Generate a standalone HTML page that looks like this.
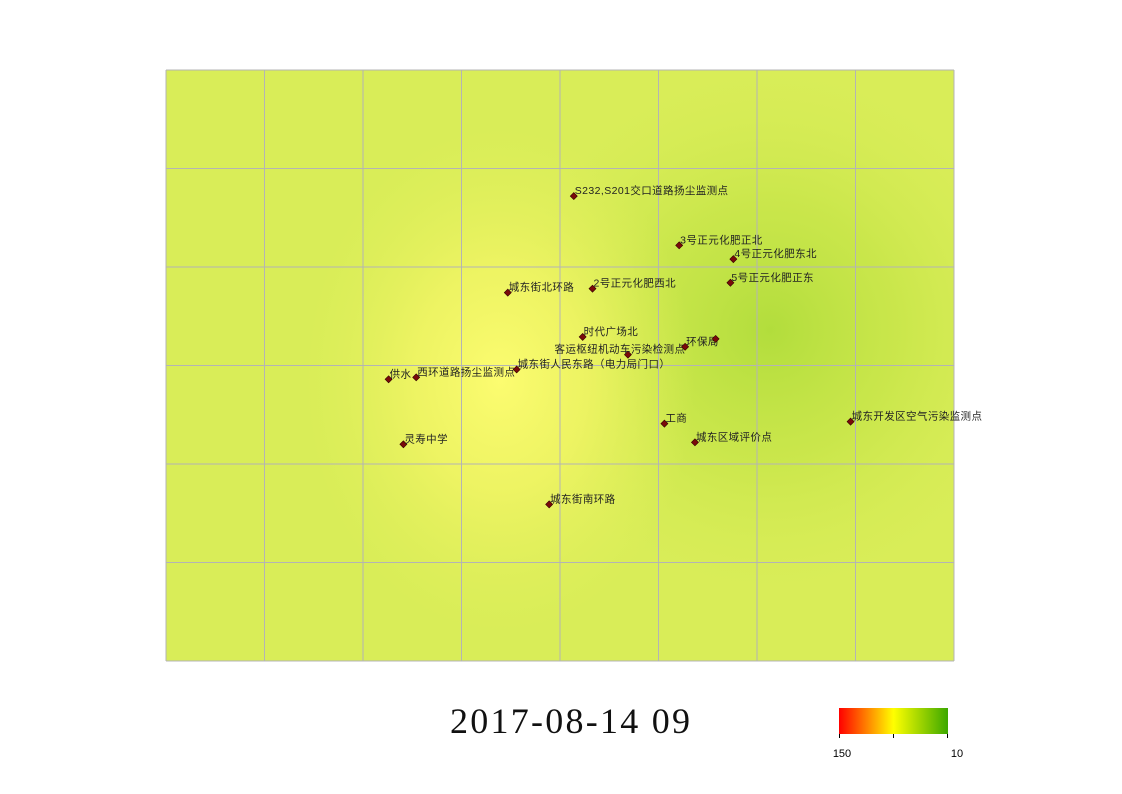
<!DOCTYPE html>
<html><head><meta charset="utf-8"><style>
body{margin:0;background:#fff;}
svg{display:block;font-family:"Liberation Sans","Noto Sans CJK SC",sans-serif;}
</style></head><body>
<svg id="c" width="1122" height="794">
<defs>
<radialGradient id="hot" cx="500" cy="380" r="230" gradientUnits="userSpaceOnUse" gradientTransform="translate(500 380) scale(0.85 1.1) translate(-500 -380)">
<stop offset="0" stop-color="#fcfc70" stop-opacity="1"/>
<stop offset="0.45" stop-color="#f2f565" stop-opacity="0.8"/>
<stop offset="1" stop-color="#e4f05c" stop-opacity="0"/>
</radialGradient>
<radialGradient id="cool" cx="770" cy="330" r="260" gradientUnits="userSpaceOnUse">
<stop offset="0" stop-color="#b2dd3c" stop-opacity="1"/>
<stop offset="0.5" stop-color="#c4e446" stop-opacity="0.7"/>
<stop offset="1" stop-color="#d2ea52" stop-opacity="0"/>
</radialGradient>
<linearGradient id="leg" x1="0" x2="1" y1="0" y2="0">
<stop offset="0" stop-color="#ff0000"/><stop offset="0.5" stop-color="#ffff00"/><stop offset="1" stop-color="#3ca800"/>
</linearGradient>
<clipPath id="mc"><rect x="166" y="70" width="788" height="591"/></clipPath>
</defs>
<g clip-path="url(#mc)">
<rect x="166" y="70" width="788" height="591" fill="#d9ed58"/>
<rect x="166" y="70" width="788" height="591" fill="url(#cool)"/>
<rect x="166" y="70" width="788" height="591" fill="url(#hot)"/>
</g>
<g id="grid"></g>
<g id="pts"></g>
<text x="450" y="733" textLength="240" lengthAdjust="spacing" font-family="Liberation Serif,serif" font-size="36" fill="#111">2017-08-14 09</text>
<g>
<rect x="839" y="708" width="109" height="26" fill="url(#leg)"/>
<path d="M839.5 734v4M893.5 734v4M947.5 734v4" stroke="#000"/>
<text x="842" y="757" font-size="11" text-anchor="middle">150</text>
<text x="957" y="757" font-size="11" text-anchor="middle">10</text>
</g>
</svg>
<script>
const names=["S232,S201交口道路扬尘监测点","3号正元化肥正北","4号正元化肥东北","5号正元化肥正东","2号正元化肥西北","城东街北环路","时代广场北","客运枢纽机动车污染检测点","环保局","城东街人民东路（电力局门口）","西环道路扬尘监测点","供水","工商","城东区域评价点","城东开发区空气污染监测点","灵寿中学","城东街南环路",""];
const gx=[4.14,5.21,5.76,5.73,4.33,3.47,4.23,4.69,5.27,3.56,2.54,2.26,5.06,5.37,6.95,2.41,3.89,5.58];
const gy=[1.28,1.78,1.92,2.16,2.22,2.26,2.71,2.89,2.81,3.04,3.12,3.14,3.59,3.78,3.57,3.80,4.41,2.73];
const cols=8,rows=6;
const X=u=>166+u*788/cols, Y=v=>70+v*591/rows;
const NS="http://www.w3.org/2000/svg";
const grid=document.getElementById('grid');
for(let i=0;i<=cols;i++){const l=document.createElementNS(NS,'line');
l.setAttribute('x1',X(i));l.setAttribute('x2',X(i));l.setAttribute('y1',70);l.setAttribute('y2',661);
l.setAttribute('stroke','#b4b4b4');


grid.appendChild(l);}
for(let j=0;j<=rows;j++){const l=document.createElementNS(NS,'line');
l.setAttribute('y1',Y(j));l.setAttribute('y2',Y(j));l.setAttribute('x1',166);l.setAttribute('x2',954);
l.setAttribute('stroke','#b4b4b4');


grid.appendChild(l);}
const pts=document.getElementById('pts');
for(let i=0;i<gx.length;i++){
 const x=X(gx[i]),y=Y(gy[i]);
 const d=document.createElementNS(NS,'rect');
 d.setAttribute('x',x-2.5);d.setAttribute('y',y-2.5);d.setAttribute('width',5);d.setAttribute('height',5);
 d.setAttribute('transform',`rotate(45 ${x} ${y})`);d.setAttribute('fill','#7a0a0a');d.setAttribute('stroke','#300');d.setAttribute('stroke-width','0.6');
 
 
 pts.appendChild(d);
 if(names[i]){
  const t=document.createElementNS(NS,'text');
  const center=names[i]==="客运枢纽机动车污染检测点";
  t.setAttribute('x',center?x-8:x+1);t.setAttribute('y',y-2);
  if(center)t.setAttribute('text-anchor','middle');
  t.setAttribute('font-size','10.5');t.setAttribute('letter-spacing','0.4');t.setAttribute('fill','#222');
  t.textContent=names[i];
  
  
  pts.appendChild(t);
 }
}
</script>
</body></html>
